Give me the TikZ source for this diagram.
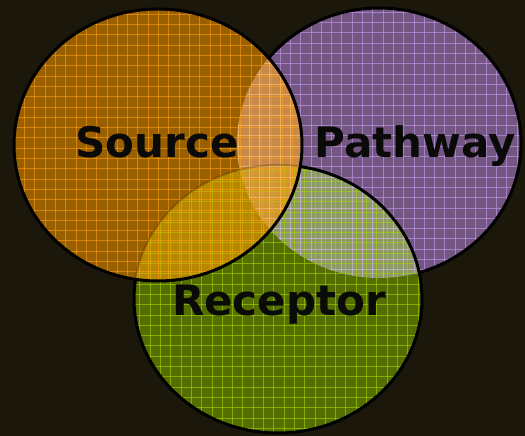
\documentclass[tikz,border=0pt]{standalone}
\usepackage{fontspec}
\setmainfont{DejaVu Sans}
\definecolor{bg}{HTML}{1C170B}
\definecolor{srcF}{HTML}{9A6000}
\definecolor{srcL}{HTML}{FF9C10}
\definecolor{patF}{HTML}{745682}
\definecolor{patL}{HTML}{C59CF0}
\definecolor{recF}{HTML}{546F00}
\definecolor{recL}{HTML}{A4D400}
\definecolor{spF}{HTML}{C88848}
\definecolor{srF}{HTML}{B88600}
\definecolor{prF}{HTML}{8E9A66}
\definecolor{allF}{HTML}{D09634}
\definecolor{txt}{HTML}{0A0A08}
\newcommand\mygrid[2]{%
  \foreach \i in {0,...,52} {\draw[#1, line width=0.9pt, opacity=0.6] ({#2+\i*10.3},0) -- ({#2+\i*10.3},436);}
  \foreach \i in {0,...,43} {\draw[#1, line width=0.9pt, opacity=0.6] (0,{#2+\i*10.3}) -- (525,{#2+\i*10.3});}}
\tikzset{
  srcpath/.style={insert path={(158,145) ellipse [x radius=144pt, y radius=136pt]}},
  patpath/.style={insert path={(379,143) ellipse [x radius=142pt, y radius=135pt]}},
  recpath/.style={insert path={(278,299) ellipse [x radius=144pt, y radius=134pt]}},
  edge/.style={draw=black, line width=3pt},
  lbl/.style={text=txt, font=\bfseries\fontsize{42}{50}\selectfont, anchor=base, inner sep=0pt}
}
\begin{document}
\begin{tikzpicture}[x=1pt,y=-1pt]
\fill[bg] (0,0) rectangle (525,436);
\useasboundingbox (0,0) rectangle (525,436);
% Pathway
\fill[patF, patpath];
\begin{scope}\clip[patpath]; \mygrid{patL}{2}\end{scope}
\draw[edge, patpath];
% Receptor
\fill[recF, recpath];
\begin{scope}\clip[patpath]; \fill[prF, recpath];\end{scope}
\begin{scope}\clip[recpath]; \mygrid{recL}{6}\end{scope}
\begin{scope}\clip[recpath]; \clip[patpath]; \mygrid{patL!70!white}{2}\end{scope}
\draw[edge, recpath];
% Source
\fill[srcF, srcpath];
\begin{scope}\clip[srcpath]; \fill[spF, patpath];\end{scope}
\begin{scope}\clip[srcpath]; \fill[srF, recpath];\end{scope}
\begin{scope}\clip[srcpath]; \clip[patpath]; \fill[allF, recpath];\end{scope}
\begin{scope}\clip[srcpath]; \mygrid{srcL}{4}\end{scope}
\begin{scope}\clip[srcpath]; \clip[patpath]; \mygrid{srcL!60!white}{2}\end{scope}
\begin{scope}\clip[srcpath]; \clip[recpath]; \mygrid{recL!60!srcL}{6}\end{scope}
\begin{scope}\clip[srcpath]; \draw[draw=black, line width=2pt, opacity=0.2, recpath];\end{scope}
\draw[edge, srcpath];
% Labels
\node[lbl] (source) at (157,157) {Source};
\node[lbl] (pathway) at (415,157) {Pathway};
\node[lbl] (receptor) at (279,315) {Receptor};
\end{tikzpicture}
\end{document}
